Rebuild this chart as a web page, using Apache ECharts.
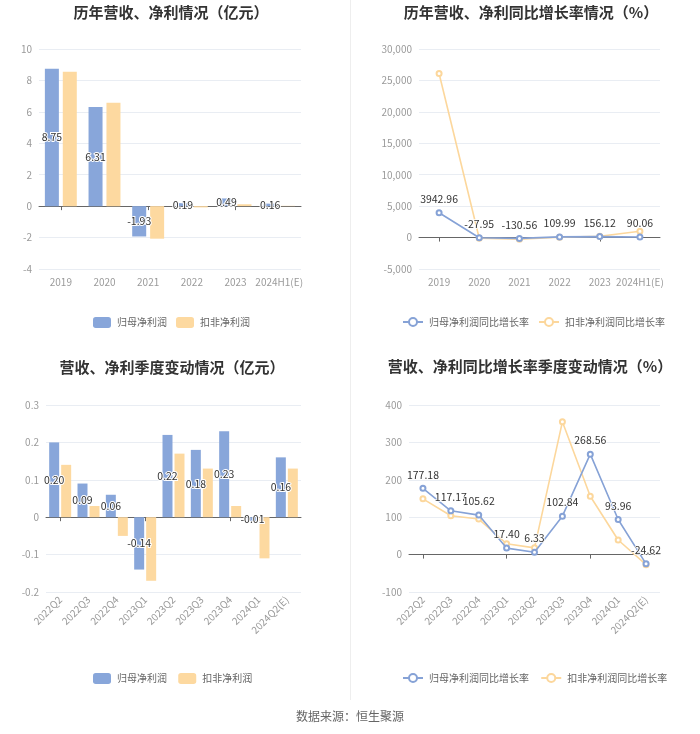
<!DOCTYPE html>
<html>
<head>
<meta charset="utf-8">
<script src="https://cdn.jsdelivr.net/npm/echarts@6/dist/echarts.min.js"></script>
<style>html,body{margin:0;padding:0;background:#fff;}#main{width:700px;height:734px;}</style>
</head>
<body>
<div id="main"></div>
<script>
// ---- data ----
var yearCats = ['2019', '2020', '2021', '2022', '2023', '2024H1(E)'];
var yearNetProfit = [8.75, 6.31, -1.93, 0.19, 0.49, 0.16];
var yearDeductedProfit = [8.55, 6.58, -2.07, -0.08, 0.12, 0.02];

var yearNetGrowth = [3942.96, -27.95, -130.56, 109.99, 156.12, 90.06];
var yearDeductedGrowth = [26100, -100, -250, 50, 200, 1000];

var quarterCats = ['2022Q2', '2022Q3', '2022Q4', '2023Q1', '2023Q2', '2023Q3', '2023Q4', '2024Q1', '2024Q2(E)'];
var quarterNetProfit = [0.20, 0.09, 0.06, -0.14, 0.22, 0.18, 0.23, -0.01, 0.16];
var quarterDeductedProfit = [0.14, 0.03, -0.05, -0.17, 0.17, 0.13, 0.03, -0.11, 0.13];

var quarterNetGrowth = [177.18, 117.17, 105.62, 17.40, 6.33, 102.84, 268.56, 93.96, -24.62];
var quarterDeductedGrowth = [149, 104, 95, 29, 18, 355, 156, 39, -27];

var seriesNames = ['归母净利润', '扣非净利润'];
var growthNames = ['归母净利润同比增长率', '扣非净利润同比增长率'];
var titles = ['历年营收、净利情况（亿元）', '历年营收、净利同比增长率情况（%）', '营收、净利季度变动情况（亿元）', '营收、净利同比增长率季度变动情况（%）'];
var sourceText = '数据来源：恒生聚源';

// ---- styles ----
var BLUE = '#88a6da';
var ORANGE = '#fdd9a0';
var LBLUE = '#86a2d6';
var LORANGE = '#fcd79c';
var FONT = '"Noto Sans CJK SC", "Liberation Sans", sans-serif';

var chart = echarts.init(document.getElementById('main'), null, {renderer: 'canvas'});

var grids = [
  {left: 39, top: 49, width: 262, height: 220},
  {left: 419, top: 49, width: 241, height: 220},
  {left: 46, top: 405, width: 255, height: 187},
  {left: 409, top: 405, width: 251, height: 187}
];

var catData = [yearCats, yearCats, quarterCats, quarterCats];
var xAxes = [];
for (var i = 0; i < 4; i++) {
  xAxes.push({
    gridIndex: i, type: 'category', data: catData[i], boundaryGap: true,
    axisLine: {show: true, onZero: true, lineStyle: {color: '#666', width: 1}},
    axisTick: {show: true, alignWithLabel: true, length: 4, lineStyle: {color: '#666'}},
    axisLabel: {show: false}, splitLine: {show: false}
  });
  xAxes.push({
    gridIndex: i, type: 'category', data: catData[i], boundaryGap: true, position: 'bottom',
    axisLine: {show: false, onZero: false}, axisTick: {show: false}, splitLine: {show: false},
    axisLabel: {show: true, interval: 0, color: '#9a9a9a', fontSize: 10, fontFamily: FONT,
      margin: i < 2 ? 8 : 6, rotate: i < 2 ? 0 : 45}
  });
}

var yRanges = [[-4, 10, 2], [-5000, 30000, 5000], [-0.2, 0.3, 0.1], [-100, 400, 100]];
var yAxes = yRanges.map(function (r, i) {
  return {
    gridIndex: i, type: 'value', min: r[0], max: r[1], interval: r[2],
    axisLine: {show: false}, axisTick: {show: false},
    axisLabel: {color: '#9a9a9a', fontSize: 10, fontFamily: FONT, margin: 7},
    splitLine: {show: true, lineStyle: {color: '#e9edf3', width: 1}}
  };
});

var barLabel = {
  show: true, position: 'inside', color: '#333', fontSize: 10.5, fontFamily: FONT,
  textBorderColor: '#fff', textBorderWidth: 2,
  formatter: function (p) { return p.value.toFixed(2); }
};
var lineLabel = {
  show: true, position: 'top', color: '#333', fontSize: 10.5, fontFamily: FONT,
  textBorderColor: '#fff', textBorderWidth: 1.5, distance: 5,
  formatter: function (p) { return p.value.toFixed(2); }
};

function barSeries(name, data, idx, color, label, width, gap) {
  var s = {
    name: name, type: 'bar', xAxisIndex: idx * 2, yAxisIndex: idx, data: data,
    barWidth: width, barGap: gap, itemStyle: {color: color}, silent: true
  };
  if (label) s.label = barLabel;
  return s;
}
function lineSeries(name, data, idx, color, label) {
  var s = {
    name: name, type: 'line', xAxisIndex: idx * 2, yAxisIndex: idx, data: data,
    symbol: 'emptyCircle', symbolSize: 5, showAllSymbol: true,
    lineStyle: {color: color, width: 1.6}, itemStyle: {color: color, borderWidth: 1.3},
    silent: true
  };
  if (label) { s.label = lineLabel; s.z = 3; } else { s.z = 2; }
  return s;
}

var series = [
  barSeries(seriesNames[0], yearNetProfit, 0, BLUE, true, 14, '28%'),
  barSeries(seriesNames[1], yearDeductedProfit, 0, ORANGE, false, 14, '28%'),
  lineSeries(growthNames[1], yearDeductedGrowth, 1, LORANGE, false),
  lineSeries(growthNames[0], yearNetGrowth, 1, LBLUE, true),
  barSeries(seriesNames[0] + ' ', quarterNetProfit, 2, BLUE, true, 10, '20%'),
  barSeries(seriesNames[1] + ' ', quarterDeductedProfit, 2, ORANGE, false, 10, '20%'),
  lineSeries(growthNames[1] + ' ', quarterDeductedGrowth, 3, LORANGE, false),
  lineSeries(growthNames[0] + ' ', quarterNetGrowth, 3, LBLUE, true)
];

var titleCenters = [[166, 0], [526, 0], [167, 355], [525, 354]];
var titleOpts = titles.map(function (t, i) {
  return {
    text: t, left: titleCenters[i][0], top: titleCenters[i][1], textAlign: 'center',
    textStyle: {fontSize: 15, fontWeight: 'bold', color: '#333', fontFamily: FONT}
  };
});

function legendOpt(names, left, top, isLine) {
  return {
    data: names, left: left, top: top, itemWidth: isLine ? 20 : 18, itemHeight: isLine ? 10 : 11,
    itemGap: 9, icon: isLine ? undefined : 'roundRect', selectedMode: false,
    textStyle: {color: '#666', fontSize: 10, fontFamily: FONT, padding: [0, 0, 0, 1]}
  };
}

var option = {
  animation: false,
  backgroundColor: '#fff',
  textStyle: {fontFamily: FONT},
  title: titleOpts,
  grid: grids,
  xAxis: xAxes,
  yAxis: yAxes,
  legend: [
    legendOpt(seriesNames, 88, 312, false),
    legendOpt(growthNames, 397, 312, true),
    legendOpt([seriesNames[0] + ' ', seriesNames[1] + ' '], 88, 668, false),
    legendOpt([growthNames[0] + ' ', growthNames[1] + ' '], 397, 668, true)
  ],
  series: series,
  graphic: [
    {type: 'line', shape: {x1: 350.5, y1: 0, x2: 350.5, y2: 700}, style: {stroke: '#eeeeee', lineWidth: 1}, silent: true},
    {type: 'text', left: 'center', top: 710, style: {text: sourceText, fill: '#666', fontSize: 12, fontFamily: FONT}, silent: true}
  ]
};
chart.setOption(option);
</script>
</body>
</html>
